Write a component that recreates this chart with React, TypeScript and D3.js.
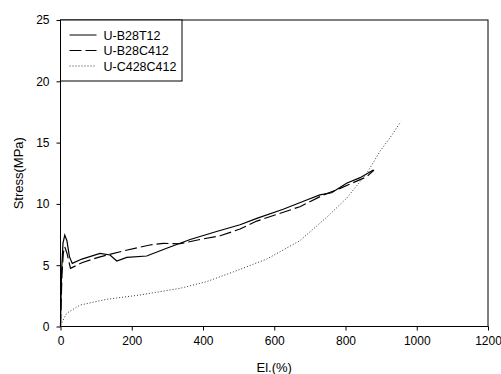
import { useEffect, useRef } from 'react';
import * as d3 from 'd3';

type Pt = { el: number; stress: number };

// (El.% vs Stress MPa)
const solidData: Pt[] = [
  { el: 0, stress: 0 }, { el: 3, stress: 4.5 }, { el: 7, stress: 6.8 }, { el: 12, stress: 7.46 },
  { el: 18, stress: 7.0 }, { el: 25, stress: 5.7 }, { el: 33, stress: 5.15 }, { el: 60, stress: 5.5 },
  { el: 111, stress: 5.97 }, { el: 139, stress: 5.83 }, { el: 158, stress: 5.34 }, { el: 186, stress: 5.64 },
  { el: 242, stress: 5.75 }, { el: 298, stress: 6.38 }, { el: 364, stress: 7.1 }, { el: 438, stress: 7.75 },
  { el: 504, stress: 8.3 }, { el: 551, stress: 8.82 }, { el: 625, stress: 9.56 }, { el: 691, stress: 10.32 },
  { el: 728, stress: 10.73 }, { el: 761, stress: 10.91 }, { el: 803, stress: 11.68 }, { el: 841, stress: 12.14 },
  { el: 878, stress: 12.77 },
];

const dashedData: Pt[] = [
  { el: 0, stress: 0 }, { el: 4, stress: 4.2 }, { el: 8, stress: 6.0 }, { el: 12, stress: 6.5 },
  { el: 18, stress: 6.0 }, { el: 28, stress: 4.74 }, { el: 60, stress: 5.2 }, { el: 106, stress: 5.64 },
  { el: 176, stress: 6.16 }, { el: 251, stress: 6.65 }, { el: 289, stress: 6.78 }, { el: 335, stress: 6.75 },
  { el: 392, stress: 7.1 }, { el: 448, stress: 7.4 }, { el: 504, stress: 7.95 }, { el: 551, stress: 8.6 },
  { el: 672, stress: 9.77 }, { el: 738, stress: 10.73 }, { el: 785, stress: 11.27 }, { el: 860, stress: 12.22 },
  { el: 880, stress: 12.77 },
];

const dottedData: Pt[] = [
  { el: 0, stress: 0.1 }, { el: 17, stress: 1.07 }, { el: 55, stress: 1.75 }, { el: 130, stress: 2.22 },
  { el: 223, stress: 2.57 }, { el: 335, stress: 3.11 }, { el: 410, stress: 3.66 }, { el: 485, stress: 4.45 },
  { el: 579, stress: 5.5 }, { el: 672, stress: 7.0 }, { el: 747, stress: 8.9 }, { el: 803, stress: 10.46 },
  { el: 860, stress: 12.5 }, { el: 897, stress: 14.3 }, { el: 930, stress: 15.6 }, { el: 955, stress: 16.7 },
];

const seriesNames = ['U-B28T12', 'U-B28C412', 'U-C428C412'];
const xTicks = [0, 200, 400, 600, 800, 1000, 1200];
const yTicks = [0, 5, 10, 15, 20, 25];

export default function App() {
  const svgRef = useRef<SVGSVGElement>(null);

  useEffect(() => {
    if (!svgRef.current) return;
    const svg = d3.select(svgRef.current);
    svg.selectAll('*').remove();

    const font = 'Liberation Sans, Arial, sans-serif';
    const left = 60.5, right = 488, top = 20, bottom = 326.5;

    const x = d3.scaleLinear().domain([0, 1200]).range([left, right]);
    const y = d3.scaleLinear().domain([0, 25]).range([bottom, top]);

    const line = d3.line<Pt>().x(d => x(d.el)).y(d => y(d.stress));

    // frame
    svg.append('rect')
      .attr('x', left).attr('y', top)
      .attr('width', right - left).attr('height', bottom - top)
      .attr('fill', 'none').attr('stroke', '#000').attr('stroke-width', 1);

    // axes
    const xAxis = svg.append('g')
      .attr('transform', `translate(0,${bottom})`)
      .call(d3.axisBottom(x).tickValues(xTicks).tickSize(4).tickPadding(6).tickFormat(d => `${d}`));
    const yAxis = svg.append('g')
      .attr('transform', `translate(${left},0)`)
      .call(d3.axisLeft(y).tickValues(yTicks).tickSize(4).tickPadding(7).tickFormat(d => `${d}`));
    [xAxis, yAxis].forEach(g => {
      g.select('.domain').remove();
      g.selectAll('text').attr('font-family', font).attr('font-size', 12).attr('fill', '#000');
      g.selectAll('line').attr('stroke', '#000');
    });

    // series
    svg.append('path').datum(dottedData)
      .attr('fill', 'none').attr('stroke', '#333').attr('stroke-width', 1)
      .attr('stroke-dasharray', '1,2').attr('d', line);
    svg.append('path').datum(dashedData)
      .attr('fill', 'none').attr('stroke', '#000').attr('stroke-width', 1.2)
      .attr('stroke-dasharray', '12,4').attr('d', line);
    svg.append('path').datum(solidData)
      .attr('fill', 'none').attr('stroke', '#000').attr('stroke-width', 1.2)
      .attr('d', line);

    // axis titles
    svg.append('text')
      .attr('x', (left + right) / 2).attr('y', 372)
      .attr('text-anchor', 'middle').attr('font-family', font).attr('font-size', 13)
      .text('El.(%)');
    svg.append('text')
      .attr('transform', `translate(23,${(top + bottom) / 2}) rotate(-90)`)
      .attr('text-anchor', 'middle').attr('font-family', font).attr('font-size', 13)
      .text('Stress(MPa)');

    // legend
    const legend = svg.append('g');
    legend.append('rect')
      .attr('x', left).attr('y', top).attr('width', 121.5).attr('height', 61)
      .attr('fill', '#fff').attr('stroke', '#000').attr('stroke-width', 1);
    const dashes = [null, '12,4', '1,2'];
    const colors = ['#000', '#000', '#333'];
    seriesNames.forEach((name, i) => {
      const yy = top + 15 + i * 15.5;
      legend.append('line')
        .attr('x1', left + 9).attr('x2', left + 36).attr('y1', yy).attr('y2', yy)
        .attr('stroke', colors[i]).attr('stroke-width', 1)
        .attr('stroke-dasharray', dashes[i] ?? null);
      legend.append('text')
        .attr('x', left + 43).attr('y', yy + 4.5)
        .attr('font-family', font).attr('font-size', 12.5)
        .text(name);
    });
  }, []);

  return (
    <svg ref={svgRef} width={501} height={374}
      style={{ position: 'absolute', left: 0, top: 0, background: '#fff' }} />
  );
}
